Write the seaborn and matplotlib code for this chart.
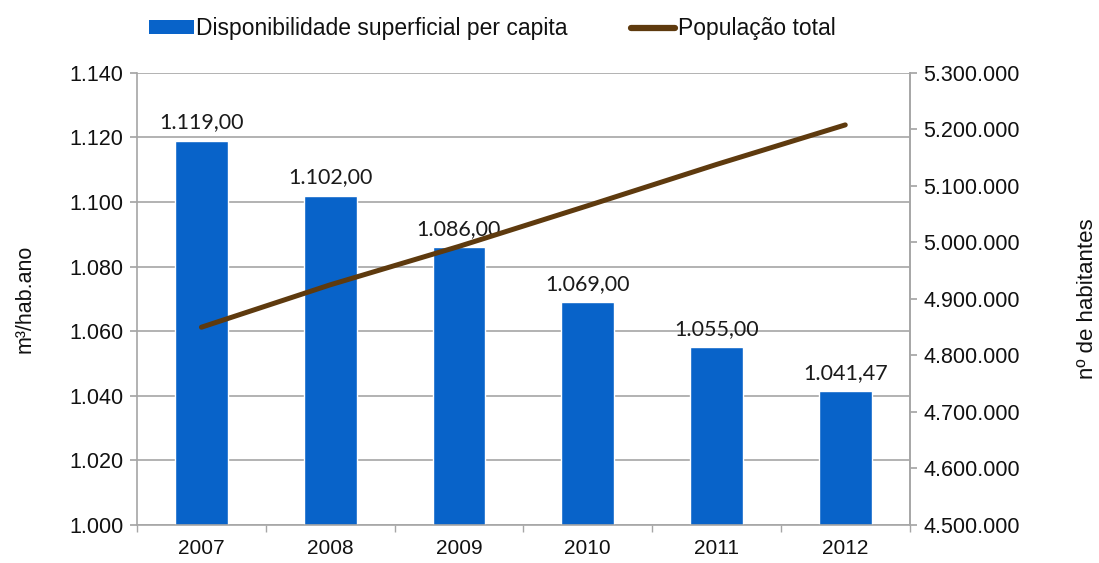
import matplotlib
matplotlib.use("Agg")
import matplotlib.pyplot as plt
from matplotlib.patches import Patch
from matplotlib.lines import Line2D
from matplotlib.ticker import FixedLocator, FuncFormatter
import seaborn as sns
import numpy as np
import pandas as pd

# ---- data ----
years = ["2007", "2008", "2009", "2010", "2011", "2012"]
disponibilidade = [1119.00, 1102.00, 1086.00, 1069.00, 1055.00, 1041.47]
populacao = [4850000, 4925000, 4993000, 5065000, 5138000, 5208000]
bar_labels = ["1.119,00", "1.102,00", "1.086,00", "1.069,00", "1.055,00", "1.041,47"]
left_ticks = [1000, 1020, 1040, 1060, 1080, 1100, 1120, 1140]
right_ticks = [4500000, 4600000, 4700000, 4800000, 4900000, 5000000, 5100000, 5200000, 5300000]
series_names = ["Disponibilidade superficial per capita", "População total"]

sns.set_theme(style="white")
plt.rcParams["font.family"] = ["Liberation Sans", "DejaVu Sans"]

BLUE = "#0863C9"
BROWN = "#5E3A0E"
GRID = "#A6A6A6"
TXT = "#111111"
TICKSIZE = 15.5

fig = plt.figure(figsize=(10.99, 5.63), dpi=100)
ax = fig.add_axes([0.1247, 0.0675, 0.703, 0.803])

df = pd.DataFrame({"ano": years, "disp": disponibilidade})
sns.barplot(data=df, x="ano", y="disp", color=BLUE, saturation=1, width=0.41, ax=ax, zorder=2)
ax.set_ylim(1000, 1140)
ax.set_xlim(-0.5, len(years) - 0.5)
ax.yaxis.set_major_locator(FixedLocator(left_ticks))
ax.yaxis.set_major_formatter(FuncFormatter(lambda v, p: f"{v:,.0f}".replace(",", ".")))
ax.grid(axis="y", color=GRID, linewidth=1.2, zorder=0)
ax.set_axisbelow(True)
ax.spines["top"].set_visible(False)
for s in ["left", "bottom", "right"]:
    ax.spines[s].set_color(GRID)
    ax.spines[s].set_linewidth(1.2)
ax.tick_params(axis="y", which="major", left=True, length=5, color=GRID, labelsize=TICKSIZE, pad=5, labelcolor=TXT)
ax.tick_params(axis="x", which="major", bottom=False, labelsize=15, pad=4, labelcolor=TXT)
ax.set_xticks(np.arange(-0.5, len(years), 1.0), minor=True)
ax.tick_params(axis="x", which="minor", bottom=True, length=5, color=GRID)
ax.set_xlabel("")
ax.set_ylabel("m³/hab.ano", fontsize=15.5, labelpad=24, color=TXT)

for i, (v, lab) in enumerate(zip(disponibilidade, bar_labels)):
    ax.annotate(lab, (i, v), xytext=(0, 6), textcoords="offset points", ha="center", va="bottom",
                fontsize=15.5, family=["Lato", "DejaVu Sans"], color="#1a1a1a")

ax2 = ax.twinx()
sns.lineplot(x=np.arange(len(years)), y=populacao, color=BROWN, linewidth=3.6, ax=ax2, zorder=3,
             solid_capstyle="round")
ax2.set_ylim(4500000, 5300000)
ax2.set_xlim(-0.5, len(years) - 0.5)
ax2.yaxis.set_major_locator(FixedLocator(right_ticks))
ax2.yaxis.set_major_formatter(FuncFormatter(lambda v, p: f"{v:,.0f}".replace(",", ".")))
ax2.tick_params(axis="y", right=True, length=5, color=GRID, labelsize=TICKSIZE, pad=5, labelcolor=TXT)
for s in ["top", "left", "bottom"]:
    ax2.spines[s].set_visible(False)
ax2.spines["right"].set_color(GRID)
ax2.spines["right"].set_linewidth(1.2)
ax2.set_ylabel("nº de habitantes", fontsize=16, labelpad=41, color=TXT)

handles = [Patch(facecolor=BLUE, edgecolor="none"),
           Line2D([0], [0], color=BROWN, linewidth=4.5)]
fig.legend(handles, series_names, loc="upper left", bbox_to_anchor=(0.117, 1.006), ncol=2,
           frameon=False, handlelength=1.95, handleheight=0.55, handletextpad=0.1,
           columnspacing=2.75, prop={"family": ["Liberation Sans", "DejaVu Sans"], "size": 16.5}, labelcolor=TXT)

fig.savefig("out.png", dpi=100)
